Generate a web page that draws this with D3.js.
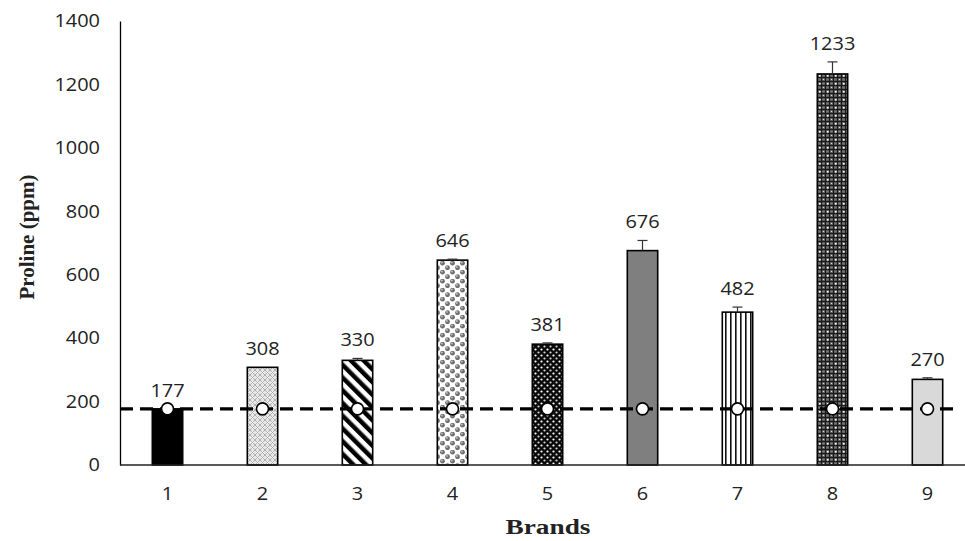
<!DOCTYPE html>
<html><head><meta charset="utf-8">
<script src="https://cdn.jsdelivr.net/npm/d3@7"></script>
<style>body{margin:0;background:#fff}svg{display:block}</style>
</head><body>
<svg id="c" width="965" height="541"></svg>
<script>
const categories = ["1","2","3","4","5","6","7","8","9"];
const values = [177, 308, 330, 646, 381, 676, 482, 1233, 270];
const errors = [0, 0, 6, 3, 4, 32, 16, 38, 5];
const refValue = 177;
const yTicks = [0, 200, 400, 600, 800, 1000, 1200, 1400];
const fills = ["solid-black","p2","p3","p4","p5","solid-gray","p7","p8","solid-light"];

const svg = d3.select("#c");
const x = d3.scaleBand().domain(categories).range([120, 975]).paddingInner(0.68).paddingOuter(0.34);
const y = d3.scaleLinear().domain([0, 1400]).range([465, 21]);

const defs = svg.append("defs");
let p = defs.append("pattern").attr("id","p2").attr("patternUnits","userSpaceOnUse").attr("width",5).attr("height",5);
p.append("rect").attr("width",5).attr("height",5).attr("fill","#e6e6e6");
p.append("circle").attr("cx",2.5).attr("cy",2.5).attr("r",1.3).attr("fill","#fff");
p.append("path").attr("d","M0,0L5,5M5,0L0,5").attr("stroke","#8c8c8c").attr("stroke-width",0.6);
p = defs.append("pattern").attr("id","p3").attr("patternUnits","userSpaceOnUse").attr("width",9).attr("height",9).attr("patternTransform","rotate(-45)");
p.append("rect").attr("width",9).attr("height",9).attr("fill","#fff");
p.append("rect").attr("width",4.5).attr("height",9).attr("fill","#000");
p = defs.append("pattern").attr("id","p4").attr("patternUnits","userSpaceOnUse").attr("width",10).attr("height",9);
p.append("rect").attr("width",10).attr("height",9).attr("fill","#fff");
[[2.5,2.2],[7.5,6.7]].forEach(c=>{
  p.append("circle").attr("cx",c[0]).attr("cy",c[1]).attr("r",2.4).attr("fill","#6e6e6e");
  p.append("circle").attr("cx",c[0]-0.6).attr("cy",c[1]-0.6).attr("r",1).attr("fill","#bdbdbd");
});
[[7.5,-2.3],[-2.5,6.7]].forEach(c=>{
  p.append("circle").attr("cx",c[0]).attr("cy",c[1]).attr("r",2.4).attr("fill","#6e6e6e");
});
p = defs.append("pattern").attr("id","p5").attr("patternUnits","userSpaceOnUse").attr("width",6).attr("height",6);
p.append("rect").attr("width",6).attr("height",6).attr("fill","#0a0a0a");
p.append("circle").attr("cx",1.5).attr("cy",1.5).attr("r",1.1).attr("fill","#fff");
p.append("circle").attr("cx",4.5).attr("cy",4.5).attr("r",1.1).attr("fill","#d0d0d0");
p = defs.append("pattern").attr("id","p7").attr("patternUnits","userSpaceOnUse").attr("width",5).attr("height",5);
p.append("rect").attr("width",5).attr("height",5).attr("fill","#fff");
p.append("rect").attr("x",0).attr("width",1.6).attr("height",5).attr("fill","#111");
p = defs.append("pattern").attr("id","p8").attr("patternUnits","userSpaceOnUse").attr("width",8).attr("height",8);
p.append("rect").attr("width",8).attr("height",8).attr("fill","#7a7a7a");
p.append("path").attr("d","M0,1.5H8M0,5.5H8M1.5,0V8M5.5,0V8").attr("stroke","#1a1a1a").attr("stroke-width",1.3);
p.append("rect").attr("x",3).attr("y",3).attr("width",1.6).attr("height",1.6).attr("fill","#fff");
p.append("rect").attr("x",7).attr("y",7).attr("width",1).attr("height",1).attr("fill","#ddd");

const fillFor = f => f==="solid-black" ? "#000" : f==="solid-gray" ? "#7f7f7f" : f==="solid-light" ? "#d9d9d9" : `url(#${f})`;
const numFont = sel => sel.attr("font-family","'Open Sans', sans-serif").attr("font-size",18).attr("fill","#222")
  .attr("lengthAdjust","spacingAndGlyphs").attr("textLength", function(){ return this.textContent.length * 11.4; });

svg.append("g").selectAll("rect").data(categories).join("rect")
  .attr("x", d => x(d)).attr("width", x.bandwidth())
  .attr("y", (d,i) => y(values[i])).attr("height", (d,i) => y(0) - y(values[i]))
  .attr("fill", (d,i) => fillFor(fills[i]))
  .attr("stroke", "#000").attr("stroke-width", 1.6);

const eg = svg.append("g").attr("stroke","#333").attr("stroke-width",1.2);
categories.forEach((d,i) => {
  if (!errors[i]) return;
  const cx = x(d) + x.bandwidth()/2;
  eg.append("line").attr("x1",cx).attr("x2",cx).attr("y1",y(values[i])).attr("y2",y(values[i]+errors[i]));
  eg.append("line").attr("x1",cx-5).attr("x2",cx+5).attr("y1",y(values[i]+errors[i])).attr("y2",y(values[i]+errors[i]));
});

const yAxis = d3.axisLeft(y).tickValues(yTicks).tickSize(0).tickPadding(20).tickFormat(d3.format("d"));
const gy = svg.append("g").attr("transform","translate(120,0)").call(yAxis);
gy.select(".domain").attr("stroke","#000").attr("stroke-width",1.3);
gy.selectAll("text").call(numFont);

const xAxis = d3.axisBottom(x).tickSize(0).tickPadding(22);
const gx = svg.append("g").attr("transform","translate(0,465)").call(xAxis);
gx.select(".domain").attr("d","M120,0H965").attr("stroke","#222").attr("stroke-width",1.6);
gx.selectAll("text").call(numFont);

svg.append("line").attr("x1",120).attr("x2",958).attr("y1",y(refValue)).attr("y2",y(refValue))
  .attr("stroke","#000").attr("stroke-width",3.2).attr("stroke-dasharray","13,7");
svg.append("g").selectAll("circle").data(categories).join("circle")
  .attr("cx", d => x(d) + x.bandwidth()/2).attr("cy", y(refValue)).attr("r", 6)
  .attr("fill","#fff").attr("stroke","#000").attr("stroke-width",1.6);

svg.append("g").selectAll("text").data(categories).join("text")
  .attr("x", d => x(d) + x.bandwidth()/2)
  .attr("y", (d,i) => y(values[i] + errors[i]) - 12)
  .attr("text-anchor","middle")
  .text((d,i) => values[i])
  .call(numFont);

svg.append("text").attr("x",548).attr("y",534).attr("text-anchor","middle")
  .attr("font-family","'Liberation Serif', 'Times New Roman', serif").attr("font-weight","bold")
  .attr("font-size",21).attr("fill","#222")
  .attr("transform","translate(548,0) scale(1.3,1) translate(-548,0)")
  .text("Brands");
svg.append("text").attr("transform","translate(34,237) rotate(-90)").attr("text-anchor","middle")
  .attr("font-family","'Liberation Serif', 'Times New Roman', serif").attr("font-weight","bold")
  .attr("font-size",21).attr("fill","#222")
  .text("Proline (ppm)");
</script>
</body></html>
